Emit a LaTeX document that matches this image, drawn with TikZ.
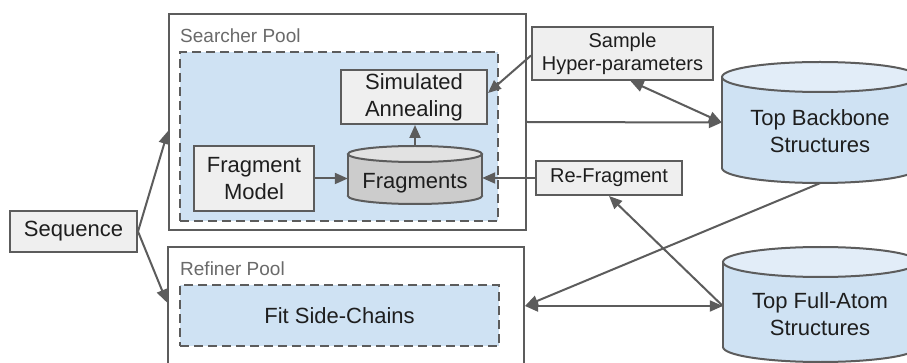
\documentclass[tikz,border=0pt]{standalone}
\usepackage{fontspec}
\setmainfont{Liberation Sans}
\usetikzlibrary{arrows.meta,calc}
\definecolor{strk}{HTML}{5C5C5C}
\definecolor{boxgray}{HTML}{EFEFEF}
\definecolor{lblue}{HTML}{CFE2F3}
\definecolor{lbluetop}{HTML}{E2EDF8}
\definecolor{fraggray}{HTML}{CCCCCC}
\definecolor{fragtop}{HTML}{E2E2E2}
\definecolor{txtc}{HTML}{1E1E1E}
\definecolor{lblc}{HTML}{6A6A6A}
\newcommand\dbcyl[7]{%
  \pgfmathsetmacro\cylcx{(#1+#2)/2}%
  \pgfmathsetmacro\cylrx{(#2-#1)/2}%
  \filldraw[fill=#6,draw=strk,line width=2pt] (\cylcx,#4-#5) ellipse [x radius=\cylrx, y radius=#5];
  \fill[#6] (#1,#3+#5) rectangle (#2,#4-#5);
  \draw[strk,line width=2pt] (#1,#3+#5) -- (#1,#4-#5) (#2,#3+#5) -- (#2,#4-#5);
  \filldraw[fill=#7,draw=strk,line width=2pt] (\cylcx,#3+#5) ellipse [x radius=\cylrx, y radius=#5];
}
\tikzset{
  bigtxt/.style={font=\fontsize{22}{27}\selectfont, text=txtc, align=center},
  smalltxt/.style={font=\fontsize{20}{23}\selectfont, text=txtc, align=center},
  graybox/.style={draw=strk, line width=2pt, fill=boxgray, inner sep=0pt},
  poolbox/.style={draw=strk, line width=2pt, inner sep=0pt},
  dashbox/.style={draw=strk, line width=2.5pt, fill=lblue, dash pattern=on 9pt off 5pt, inner sep=0pt},
  area/.style={inner sep=0pt},
  pooltitle/.style={font=\fontsize{19}{23}\selectfont, text=lblc, anchor=west, inner sep=0pt},
  arr/.style={draw=strk, line width=2pt, -{Triangle[length=13pt,width=11pt]}},
  darr/.style={draw=strk, line width=2pt, {Triangle[length=13pt,width=11pt]}-{Triangle[length=13pt,width=11pt]}},
}
\begin{document}
\begin{tikzpicture}[x=1pt,y=-1pt]
\useasboundingbox (0,0) rectangle (907,363);
\clip (0,0) rectangle (907,363);
\fill[white] (0,0) rectangle (907,363);

% Searcher pool
\node[poolbox, minimum width=357, minimum height=216] (searcher) at (347.5,122) {};
\node[pooltitle] (searchert) at (180,36) {Searcher Pool};
\node[dashbox, minimum width=318, minimum height=169] (sinner) at (339,136.5) {};
\node[graybox, bigtxt, minimum width=146, minimum height=54] (simann) at (414,97) {Simulated\\Annealing};
\node[graybox, bigtxt, minimum width=120, minimum height=65] (fragmodel) at (254,178.5) {Fragment\\Model};
\dbcyl{348}{482}{146}{204}{8}{fraggray}{fragtop}
\node[area, minimum width=134, minimum height=58] (frag) at (415,175) {};
\node[bigtxt, inner sep=0pt] (fragt) at (415,183) {Fragments};

% Refiner pool
\node[poolbox, minimum width=356, minimum height=133] (refiner) at (346,313.5) {};
\node[pooltitle] (refinert) at (180,269) {Refiner Pool};
\node[dashbox, bigtxt, minimum width=319, minimum height=61] (fitsc) at (339.5,315.5) {Fit Side-Chains};

% Left
\node[graybox, bigtxt, minimum width=127, minimum height=41] (seq) at (73.5,231.5) {Sequence};

% Right boxes
\node[graybox, smalltxt, minimum width=181, minimum height=53] (sample) at (622.5,53.5) {Sample\\Hyper-parameters};
\node[graybox, smalltxt, minimum width=146, minimum height=34] (refrag) at (609,178) {Re-Fragment};

% Cylinders
\dbcyl{722}{918}{62}{183}{15}{lblue}{lbluetop}
\node[area, minimum width=196, minimum height=121] (bb) at (820,122.5) {};
\node[bigtxt, inner sep=0pt] (bbt) at (820,131) {Top Backbone\\Structures};
\dbcyl{723}{918}{247}{362}{15}{lblue}{lbluetop}
\node[area, minimum width=195, minimum height=115] (fa) at (820.5,304.5) {};
\node[bigtxt, inner sep=0pt] (fat) at (820,314.5) {Top Full-Atom\\Structures};

% Connectors
\coordinate (rpin) at ($(refiner.east)+(0,-7.5)$);
\draw[arr] (seq.east) -- ($(searcher.west)+(0,9)$);
\draw[arr] (seq.east) -- ($(refiner.west)+(0,-11)$);
\draw[arr] (fragmodel.east) -- (fragmodel.east -| frag.west);
\draw[arr] (frag.north) -- (frag.north |- simann.south);
\draw[arr] (refrag.west) -- (refrag.west -| frag.east);
\draw[arr] ($(sample.west)+(0,2)$) -- ($(simann.east)+(0,-4)$);
\draw[arr] (searcher.east) -- (bb.west);
\draw[darr] ($(sample.south)+(8,0)$) -- (bb.west);
\draw[arr] (bb.south) -- (rpin);
\draw[darr] (rpin) -- (rpin -| fa.west);
\draw[arr] (rpin -| fa.west) -- (refrag.south);
\end{tikzpicture}
\end{document}
